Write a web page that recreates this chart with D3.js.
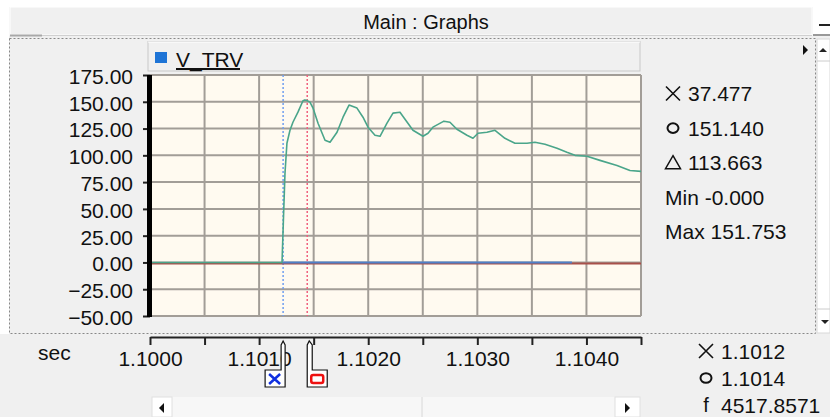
<!DOCTYPE html>
<html lang="en">
<head>
<meta charset="UTF-8">
<title>Main : Graphs</title>
<script src="https://d3js.org/d3.v7.min.js"></script>
<style>
  body { margin: 0; background: #f0f0f0; }
  svg { display: block; font-family: "Liberation Sans", Arial, sans-serif; }
</style>
</head>
<body>
<div id="my_dataviz"></div>
<script>
// ---- data ----
var timeSec = [1.1000, 1.101210, 1.101219, 1.101222, 1.101237, 1.101255, 1.101283, 1.101310, 1.101356,
  1.101402, 1.101420, 1.101441, 1.101466, 1.101494, 1.101540, 1.101604, 1.101650, 1.101714, 1.101769,
  1.101824, 1.101897, 1.101952, 1.101998, 1.102062, 1.102108, 1.102172, 1.102227, 1.102291, 1.102410,
  1.102502, 1.102548, 1.102593, 1.102694, 1.102749, 1.102813, 1.102905, 1.102960, 1.103006, 1.103088,
  1.103162, 1.103253, 1.103345, 1.103455, 1.103528, 1.103620, 1.103730, 1.103821, 1.103895, 1.104005,
  1.104124, 1.104280, 1.104399, 1.104500];
var vTrv = [0, 0, 27.8, 37.5, 83.1, 111.3, 123.4, 130.9, 140.3,
  151.0, 151.75, 151.1, 149.7, 144.1, 130.0, 114.1, 112.2, 121.6, 135.6,
  146.9, 144.1, 135.6, 126.3, 118.8, 117.8, 130.0, 139.4, 140.3, 123.4,
  117.8, 120.6, 126.3, 131.9, 130.9, 124.4, 118.8, 115.9, 120.6, 121.6,
  123.4, 115.9, 111.3, 111.3, 112.2, 110.3, 106.6, 102.8, 100.0, 99.1,
  95.3, 90.6, 85.9, 85.0];
// two flat traces lying on zero
var blueTime = [1.101210, 1.103867], blueVal = [0, 0];
var redTime = [1.1000, 1.1045], redVal = [0, 0];

var yTicks = [175, 150, 125, 100, 75, 50, 25, 0, -25, -50];
var xTicks = [1.1000, 1.1005, 1.1010, 1.1015, 1.1020, 1.1025, 1.1030, 1.1035, 1.1040, 1.1045];
var xLabelTicks = [1.1000, 1.1010, 1.1020, 1.1030, 1.1040];

var seriesName = "V_TRV";
var cursorX = 1.10122, cursorO = 1.101441;
var readoutSym = ["cross", "circle", "delta", "", ""];
var readoutTxt = ["37.477", "151.140", "113.663", "Min -0.000", "Max 151.753"];
var timeSym = ["cross", "circle", "f"];
var timeTxt = ["1.1012", "1.1014", "4517.8571"];

// ---- layout ----
var W = 830, H = 417;
var plot = {left: 150, right: 641, top: 75, bottom: 316};

var svg = d3.select("#my_dataviz").append("svg")
    .attr("width", W).attr("height", H);

var x = d3.scaleLinear().domain([1.1000, 1.1045]).range([plot.left, plot.right]);
var y = d3.scaleLinear().domain([-50, 175]).range([plot.bottom, plot.top]);

// window chrome
svg.append("rect").attr("x", 0).attr("y", 0).attr("width", W).attr("height", H).attr("fill", "#f0f0f0");
svg.append("rect").attr("x", 0).attr("y", 0).attr("width", W).attr("height", 7).attr("fill", "#ffffff");
svg.append("rect").attr("x", 0).attr("y", 0).attr("width", 9).attr("height", 334).attr("fill", "#ffffff");
svg.append("rect").attr("x", 10).attr("y", 7).attr("width", 802).attr("height", 28)
    .attr("fill", "#f0f0f0").attr("stroke", "#ffffff").attr("stroke-width", 1);
svg.append("line").attr("x1", 10).attr("x2", 812).attr("y1", 35.5).attr("y2", 35.5).attr("stroke", "#d0d0d0");
svg.append("line").attr("x1", 10).attr("x2", 42).attr("y1", 35.5).attr("y2", 35.5).attr("stroke", "#a8a8a8").attr("stroke-width", 2);
svg.append("text").attr("x", 426).attr("y", 22).attr("text-anchor", "middle")
    .attr("dominant-baseline", "central").style("font-size", "20px").attr("fill", "#111")
    .text("Main : Graphs");
// minimise button at top right
svg.append("rect").attr("x", 813).attr("y", 7).attr("width", 17).attr("height", 28).attr("fill", "#ffffff");
svg.append("line").attr("x1", 813).attr("x2", 830).attr("y1", 35).attr("y2", 35).attr("stroke", "#999").attr("stroke-width", 2);
svg.append("line").attr("x1", 819).attr("x2", 830).attr("y1", 25).attr("y2", 25).attr("stroke", "#222").attr("stroke-width", 2);

// dotted frame
svg.append("rect").attr("x", 9.5).attr("y", 38.5).attr("width", 806).attr("height", 295)
    .attr("fill", "none").attr("stroke", "#888").attr("stroke-dasharray", "2,2");

// right scroll bar
svg.append("rect").attr("x", 817).attr("y", 39).attr("width", 13).attr("height", 294).attr("fill", "#ffffff")
    .attr("stroke", "#d8d8d8");
svg.append("path").attr("d", "M823,48 L827,52 L819,52 Z").attr("fill", "#222");
svg.append("path").attr("d", "M821,320 L829,320 L825,324 Z").attr("fill", "#222");
svg.append("line").attr("x1", 817).attr("x2", 830).attr("y1", 61).attr("y2", 61).attr("stroke", "#ccc");
svg.append("line").attr("x1", 817).attr("x2", 830).attr("y1", 309).attr("y2", 309).attr("stroke", "#ccc");
svg.append("path").attr("d", "M803,45 L808,50 L803,55 Z").attr("fill", "#111");

// legend strip
svg.append("rect").attr("x", 148).attr("y", 41.5).attr("width", 492).attr("height", 29.5)
    .attr("fill", "#f0f0f0").attr("stroke", "#c8c8c8");
svg.append("line").attr("x1", 148).attr("x2", 640).attr("y1", 42).attr("y2", 42).attr("stroke", "#fff");
svg.append("rect").attr("x", 155).attr("y", 52).attr("width", 12).attr("height", 11).attr("fill", "#1e74d6");
svg.append("text").attr("x", 176).attr("y", 59).attr("dominant-baseline", "central")
    .style("font-size", "21px").attr("fill", "#111").text(seriesName);
svg.append("line").attr("x1", 176).attr("x2", 240).attr("y1", 69).attr("y2", 69).attr("stroke", "#111").attr("stroke-width", 2);

// plot background
svg.append("rect").attr("x", plot.left).attr("y", plot.top)
    .attr("width", plot.right - plot.left).attr("height", plot.bottom - plot.top)
    .attr("fill", "#fffaf0");

// grid
svg.append("g").selectAll("line").data(xTicks.slice(1)).enter().append("line")
    .attr("x1", function(d) { return x(d); }).attr("x2", function(d) { return x(d); })
    .attr("y1", plot.top).attr("y2", plot.bottom)
    .attr("stroke", "#a29d97").attr("stroke-width", 2);
svg.append("g").selectAll("line").data(yTicks).enter().append("line")
    .attr("x1", plot.left).attr("x2", plot.right)
    .attr("y1", function(d) { return y(d); }).attr("y2", function(d) { return y(d); })
    .attr("stroke", "#a29d97").attr("stroke-width", 2);

// cursor lines
svg.append("line").attr("x1", x(cursorX)).attr("x2", x(cursorX)).attr("y1", plot.top).attr("y2", plot.bottom)
    .attr("stroke", "#6f9ef0").attr("stroke-width", 1.5).attr("stroke-dasharray", "2,2");
svg.append("line").attr("x1", x(cursorO)).attr("x2", x(cursorO)).attr("y1", plot.top).attr("y2", plot.bottom)
    .attr("stroke", "#f0607e").attr("stroke-width", 1.5).attr("stroke-dasharray", "2,2");

// traces
var line = d3.line().x(function(d) { return x(d[0]); }).y(function(d) { return y(d[1]); });
svg.append("path").datum(d3.zip(redTime, redVal)).attr("d", line)
    .attr("fill", "none").attr("stroke", "#a8504a").attr("stroke-width", 2).attr("transform", "translate(0,1)");
svg.append("path").datum(d3.zip(blueTime, blueVal)).attr("d", line)
    .attr("fill", "none").attr("stroke", "#4f80c8").attr("stroke-width", 2);
svg.append("path").datum(d3.zip(timeSec, vTrv)).attr("d", line)
    .attr("fill", "none").attr("stroke", "#4aa58a").attr("stroke-width", 1.6).attr("stroke-linejoin", "round");

// y axis
var yAxis = svg.append("g").attr("transform", "translate(" + plot.left + ",0)")
    .call(d3.axisLeft(y).tickValues(yTicks).tickFormat(d3.format(".2f")).tickSize(7).tickPadding(10).tickSizeOuter(0));
yAxis.select(".domain").remove();
yAxis.selectAll(".tick line").attr("stroke", "#222").attr("stroke-width", 2);
yAxis.selectAll("text").style("font-size", "21px").attr("fill", "#111").attr("dy", "0.4em");
yAxis.attr("font-family", null).attr("font-size", null);
svg.append("rect").attr("x", 147).attr("y", plot.top).attr("width", 5).attr("height", plot.bottom - plot.top + 1).attr("fill", "#000");

// x axis in the lower panel
var xAxis = svg.append("g").attr("transform", "translate(0,337)")
    .call(d3.axisBottom(x).tickValues(xTicks).tickSize(8).tickPadding(6).tickSizeOuter(0)
      .tickFormat(function(d) { return xLabelTicks.some(function(v) { return Math.abs(v - d) < 1e-9; }) ? d3.format(".4f")(d) : ""; }));
xAxis.attr("font-family", null).attr("font-size", null);
xAxis.select(".domain").attr("stroke", "#222").attr("stroke-width", 2);
xAxis.selectAll(".tick line").attr("stroke", "#222").attr("stroke-width", 2);
xAxis.selectAll("text").style("font-size", "21px").attr("fill", "#111");
svg.append("text").attr("x", 38).attr("y", 352).attr("dominant-baseline", "central")
    .style("font-size", "21px").attr("fill", "#111").text("sec");

// cursor flags under the axis
var xc = x(cursorX), oc = x(cursorO);
svg.append("path")
    .attr("d", "M" + (xc - 2) + ",370 L" + (xc - 2) + ",345 L" + xc + ",341 L" + (xc + 2) + ",345 L" + (xc + 2) + ",387 L" + (xc - 18) + ",387 L" + (xc - 18) + ",370 Z")
    .attr("fill", "#ffffff").attr("stroke", "#111").attr("stroke-width", 1.2);
svg.append("path")
    .attr("d", "M" + (xc - 14) + ",374 L" + (xc - 3) + ",384 M" + (xc - 3) + ",374 L" + (xc - 14) + ",384")
    .attr("stroke", "#1030e0").attr("stroke-width", 2.5);
svg.append("path")
    .attr("d", "M" + oc + ",387 L" + oc + ",345 L" + (oc + 2) + ",341 L" + (oc + 5) + ",345 L" + (oc + 5) + ",370 L" + (oc + 20) + ",370 L" + (oc + 20) + ",387 Z")
    .attr("fill", "#ffffff").attr("stroke", "#111").attr("stroke-width", 1.2);
svg.append("rect").attr("x", oc + 4).attr("y", 375).attr("width", 12).attr("height", 8).attr("rx", 2)
    .attr("fill", "none").attr("stroke", "#ee1010").attr("stroke-width", 2.5);

// bottom scroll bar
svg.append("rect").attr("x", 152).attr("y", 397).attr("width", 488).attr("height", 20).attr("fill", "#f7f7f7");
svg.append("rect").attr("x", 152).attr("y", 397).attr("width", 20).attr("height", 20).attr("fill", "#ffffff").attr("stroke", "#e0e0e0");
svg.append("rect").attr("x", 615).attr("y", 397).attr("width", 25).attr("height", 20).attr("fill", "#ffffff").attr("stroke", "#e0e0e0");
svg.append("line").attr("x1", 422).attr("x2", 422).attr("y1", 397).attr("y2", 417).attr("stroke", "#d8d8d8");
svg.append("path").attr("d", "M164,403 L159,408 L164,413 Z").attr("fill", "#111");
svg.append("path").attr("d", "M625,403 L630,408 L625,413 Z").attr("fill", "#111");

// marker glyphs for the readouts
function drawSym(g, kind, cx, cy) {
  if (kind === "cross") {
    g.append("path").attr("d", "M" + (cx - 7) + "," + (cy - 7) + " L" + (cx + 7) + "," + (cy + 7) +
        " M" + (cx + 7) + "," + (cy - 7) + " L" + (cx - 7) + "," + (cy + 7))
      .attr("stroke", "#111").attr("stroke-width", 1.6);
  } else if (kind === "circle") {
    g.append("ellipse").attr("cx", cx).attr("cy", cy).attr("rx", 5.5).attr("ry", 4.8)
      .attr("fill", "none").attr("stroke", "#111").attr("stroke-width", 2);
  } else if (kind === "delta") {
    g.append("path").attr("d", "M" + cx + "," + (cy - 7) + " L" + (cx + 7.5) + "," + (cy + 6) + " L" + (cx - 7.5) + "," + (cy + 6) + " Z")
      .attr("fill", "none").attr("stroke", "#111").attr("stroke-width", 1.5);
  } else if (kind) {
    g.append("text").attr("x", cx).attr("y", cy).attr("text-anchor", "middle").attr("dominant-baseline", "central")
      .style("font-size", "20px").attr("fill", "#111").text(kind);
  }
}

// cursor readouts
var rows = svg.append("g").selectAll("g").data(readoutTxt).enter().append("g")
    .attr("transform", function(d, i) { return "translate(665," + (93.5 + i * 34.6) + ")"; });
rows.each(function(d, i) { drawSym(d3.select(this), readoutSym[i], 8, 0); });
rows.append("text").attr("x", function(d, i) { return readoutSym[i] ? 23 : 0; })
    .attr("dominant-baseline", "central").style("font-size", "21px").attr("fill", "#111")
    .text(function(d) { return d; });

var trows = svg.append("g").selectAll("g").data(timeTxt).enter().append("g")
    .attr("transform", function(d, i) { return "translate(698," + (351 + i * 27) + ")"; });
trows.each(function(d, i) { drawSym(d3.select(this), timeSym[i], 8, 0); });
trows.append("text").attr("x", 23).attr("dominant-baseline", "central").style("font-size", "21px").attr("fill", "#111")
    .text(function(d) { return d; });
</script>
</body>
</html>
